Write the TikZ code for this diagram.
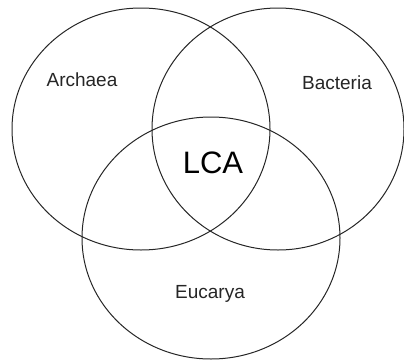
\documentclass[tikz,border=0pt]{standalone}
\usepackage{fontspec}
\setmainfont{Liberation Sans}
\begin{document}
\begin{tikzpicture}[x=1pt,y=1pt,
  ring/.style={draw=black!85,line width=1pt},
  lbl/.style={font=\fontsize{19}{21}\selectfont,text=black!85}]
\useasboundingbox (0,0) rectangle (404,360);
\draw[ring] (141,231) ellipse [x radius=129,y radius=121];
\draw[ring] (278,231) ellipse [x radius=126,y radius=121];
\draw[ring] (211,122) ellipse [x radius=129,y radius=121];
\node[lbl] (arch) at (82,280) {Archaea};
\node[lbl] (bact) at (337,277) {Bacteria};
\node[lbl] (euca) at (210,66) {Eucarya};
\node[font=\fontsize{31}{34}\selectfont] (lca) at (213,197) {LCA};
\end{tikzpicture}
\end{document}
